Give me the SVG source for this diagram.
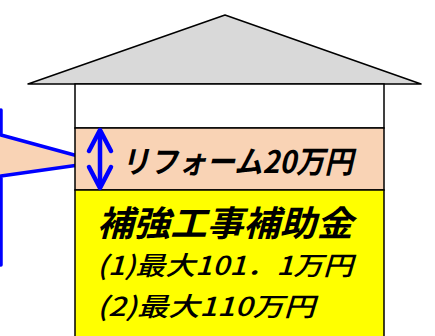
<svg xmlns="http://www.w3.org/2000/svg" width="435" height="336" viewBox="0 0 435 336">
<style>
.jp{font-family:"Noto Sans CJK JP","Noto Sans",sans-serif;font-weight:bold;font-style:italic;fill:#000}
.jpn{font-family:"Noto Sans CJK JP","Noto Sans",sans-serif;font-weight:500;font-style:italic;fill:#000}
.blue{stroke:#0000ff;fill:none;stroke-linecap:round;stroke-linejoin:round}
</style>
<rect width="435" height="336" fill="#fff"/>
<g id="callout">
<path d="M-10,110 L1,110 L1,135 L100,162 L1,176 L1,265 L-10,265 Z" fill="#f9d3b5"/>
<path class="blue" d="M1,110 L1,135 L100,162 L1,176 L1,265" stroke-width="3.5"/>
</g>
<g id="roof">
<polygon points="28,84 225,15 421,84" fill="#d9d9d9" stroke="#000" stroke-width="1.5" stroke-linejoin="round"/>
</g>
<g id="attic">
<rect x="75" y="84" width="309" height="44" fill="#fff" stroke="#000" stroke-width="1.5"/>
</g>
<g id="reform">
<rect x="75" y="128" width="309" height="62" fill="#f9d3b5" stroke="#000" stroke-width="1.5"/>
<text class="jp" x="121" y="173" font-size="31" textLength="232" lengthAdjust="spacingAndGlyphs">リフォーム20万円</text>
</g>
<g id="subsidy">
<rect x="75" y="190" width="309" height="150" fill="#ffff00" stroke="#000" stroke-width="1.5"/>
<text class="jp" x="97" y="236" font-size="35" textLength="256" lengthAdjust="spacingAndGlyphs">補強工事補助金</text>
<text class="jpn" x="97" y="275" font-size="26" textLength="256" lengthAdjust="spacingAndGlyphs">(1)最大101．1万円</text>
<text class="jpn" x="97" y="316" font-size="26" textLength="218" lengthAdjust="spacingAndGlyphs">(2)最大110万円</text>
</g>
<g id="connectors">
<path class="blue" d="M100,131 L100,187" stroke-width="4.5"/>
<path class="blue" d="M89,151 L100,130 L111,151" stroke-width="4.5"/>
<path class="blue" d="M89,167 L100,188 L111,167" stroke-width="4.5"/>
</g>
</svg>
